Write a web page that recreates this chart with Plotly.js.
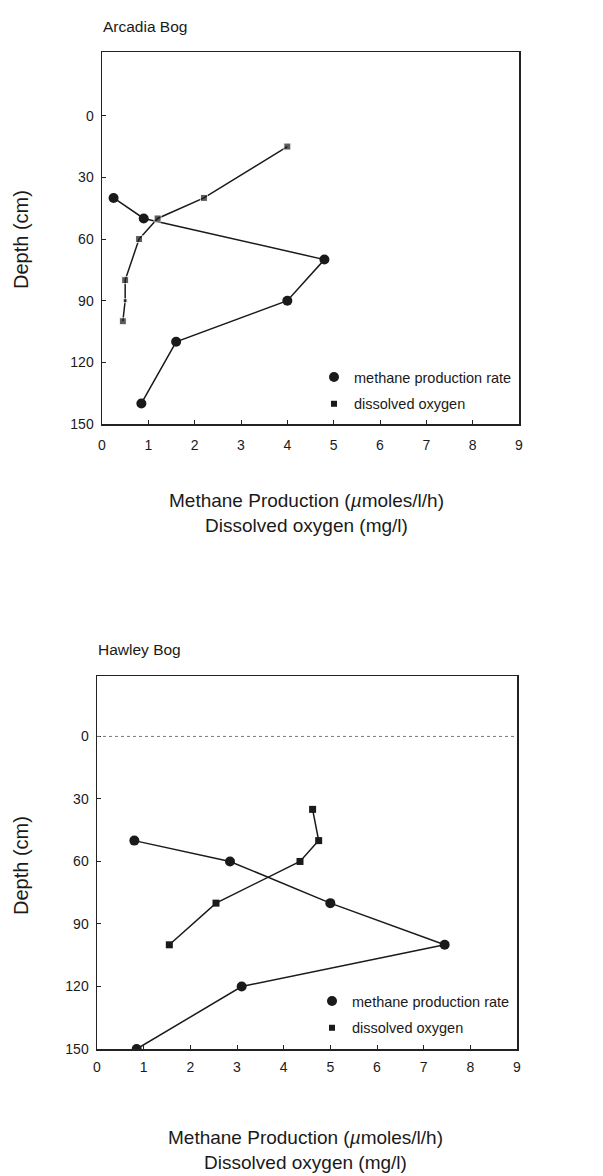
<!DOCTYPE html>
<html>
<head>
<meta charset="utf-8">
<script src="https://cdn.plot.ly/plotly-3.0.1.min.js"></script>
<style>html,body{margin:0;padding:0;background:#fff;}#chart{width:603px;height:1176px;}</style>
</head>
<body>
<div id="chart"></div>
<script>
// ---- data ----
const arcadiaMethaneRate = [0.25, 0.9, 4.8, 4.0, 1.6, 0.85];
const arcadiaMethaneDepth = [40, 50, 70, 90, 110, 140];
const arcadiaOxygen = [4.0, 2.2, 1.2, 0.8, 0.5, 0.5, 0.45];
const arcadiaOxygenDepth = [15, 40, 50, 60, 80, 90, 100];

const hawleyMethaneRate = [0.8, 2.85, 5.0, 7.45, 3.1, 0.85];
const hawleyMethaneDepth = [50, 60, 80, 100, 120, 150];
const hawleyOxygen = [4.62, 4.75, 4.35, 2.55, 1.55];
const hawleyOxygenDepth = [35, 50, 60, 80, 100];

const xTicks = [0, 1, 2, 3, 4, 5, 6, 7, 8, 9];
const yTicks = [0, 30, 60, 90, 120, 150];
const seriesNames = ["methane production rate", "dissolved oxygen"];
const panelTitles = ["Arcadia Bog", "Hawley Bog"];
const xTitle = "Methane Production (<i>µ</i>moles/l/h)<br>Dissolved oxygen (mg/l)";
const yTitle = "Depth (cm)";

// ---- layout helpers ----
const W = 603, H = 1176;
const px = v => v / W;
const py = v => 1 - v / H;
const FONT = "Liberation Sans, Arial, sans-serif";
const INK = "#1a1a1a";
const AXIS = "#222";

const circle = {symbol: "circle", size: 10, color: INK};
const square = {symbol: "square", size: 6, color: INK};
const lineStyle = {color: INK, width: 1.5};

const traces = [
  {x: arcadiaMethaneRate, y: arcadiaMethaneDepth, xaxis: "x", yaxis: "y", mode: "lines+markers",
   marker: circle, line: lineStyle, showlegend: false},
  {x: arcadiaOxygen, y: arcadiaOxygenDepth, xaxis: "x", yaxis: "y", mode: "lines+markers",
   marker: Object.assign({}, square, {size: [7, 7, 7, 7, 7, 4, 7]}), line: lineStyle, showlegend: false},
  {x: [null], y: [null], xaxis: "x", yaxis: "y", mode: "markers", marker: circle, name: seriesNames[0],
   legend: "legend", legendgroup: "a1"},
  {x: [null], y: [null], xaxis: "x", yaxis: "y", mode: "markers", marker: square, name: seriesNames[1],
   legend: "legend", legendgroup: "a2"},

  {x: hawleyMethaneRate, y: hawleyMethaneDepth, xaxis: "x2", yaxis: "y2", mode: "lines+markers",
   marker: circle, line: lineStyle, showlegend: false},
  {x: hawleyOxygen, y: hawleyOxygenDepth, xaxis: "x2", yaxis: "y2", mode: "lines+markers",
   marker: Object.assign({}, square, {size: 7}), line: lineStyle, showlegend: false},
  {x: [null], y: [null], xaxis: "x2", yaxis: "y2", mode: "markers", marker: circle, name: seriesNames[0],
   legend: "legend2", legendgroup: "h1"},
  {x: [null], y: [null], xaxis: "x2", yaxis: "y2", mode: "markers", marker: square, name: seriesNames[1],
   legend: "legend2", legendgroup: "h2"}
];

function xAxis(l, r, anchor, standoff) {
  return {domain: [px(l), px(r)], anchor: anchor, range: [0, 9], tickvals: xTicks, ticktext: xTicks.map(String),
    showline: true, mirror: true, linecolor: AXIS, linewidth: 1.5, ticks: "inside", ticklen: 4,
    tickcolor: AXIS, showgrid: false, zeroline: false, fixedrange: true, ticklabelstandoff: standoff,
    tickfont: {family: FONT, size: 14, color: INK}};
}
function yAxis(t, b, anchor, top) {
  return {domain: [py(b), py(t)], anchor: anchor, range: [150, top], tickvals: yTicks, ticktext: yTicks.map(String),
    showline: true, mirror: true, linecolor: AXIS, linewidth: 1.5, ticks: "inside", ticklen: 4,
    tickcolor: AXIS, showgrid: false, zeroline: false, fixedrange: true, ticklabelstandoff: 4,
    tickfont: {family: FONT, size: 14, color: INK}};
}

const legendBase = {font: {family: FONT, size: 14.5, color: INK}, bgcolor: "rgba(0,0,0,0)",
  borderwidth: 0, xanchor: "left", yanchor: "top", tracegroupgap: 5, itemwidth: 30};

const layout = {
  width: W, height: H,
  margin: {l: 0, r: 0, t: 0, b: 0},
  paper_bgcolor: "#fff", plot_bgcolor: "#fff",
  font: {family: FONT, color: INK},
  xaxis: xAxis(102, 519, "y", 8),
  yaxis: yAxis(52, 424, "x", -31),
  xaxis2: xAxis(97, 517, "y2", 5),
  yaxis2: yAxis(676, 1049, "x2", -29),
  legend: Object.assign({}, legendBase, {x: px(314), y: py(361)}),
  legend2: Object.assign({}, legendBase, {x: px(312), y: py(985)}),
  shapes: [
    {type: "line", xref: "x2 domain", yref: "y2", x0: 0, x1: 1, y0: 0, y1: 0,
     line: {color: "#777", width: 1, dash: "3px,3px"}}
  ],
  annotations: [
    {text: panelTitles[0], xref: "paper", yref: "paper", x: px(101), y: py(27), xanchor: "left", yanchor: "middle",
     showarrow: false, font: {family: FONT, size: 15.5, color: INK}},
    {text: panelTitles[1], xref: "paper", yref: "paper", x: px(96), y: py(649), xanchor: "left", yanchor: "middle",
     showarrow: false, font: {family: FONT, size: 15.5, color: INK}},
    {text: xTitle, xref: "paper", yref: "paper", x: px(306), y: py(513), xanchor: "center", yanchor: "middle",
     showarrow: false, font: {family: FONT, size: 19, color: INK}},
    {text: xTitle, xref: "paper", yref: "paper", x: px(305), y: py(1150), xanchor: "center", yanchor: "middle",
     showarrow: false, font: {family: FONT, size: 19, color: INK}},
    {text: yTitle, xref: "paper", yref: "paper", x: px(21), y: py(240), xanchor: "center", yanchor: "middle",
     textangle: -90, showarrow: false, font: {family: FONT, size: 20, color: INK}},
    {text: yTitle, xref: "paper", yref: "paper", x: px(21), y: py(866), xanchor: "center", yanchor: "middle",
     textangle: -90, showarrow: false, font: {family: FONT, size: 20, color: INK}}
  ]
};

Plotly.newPlot("chart", traces, layout, {staticPlot: true, displayModeBar: false});
</script>
</body>
</html>
